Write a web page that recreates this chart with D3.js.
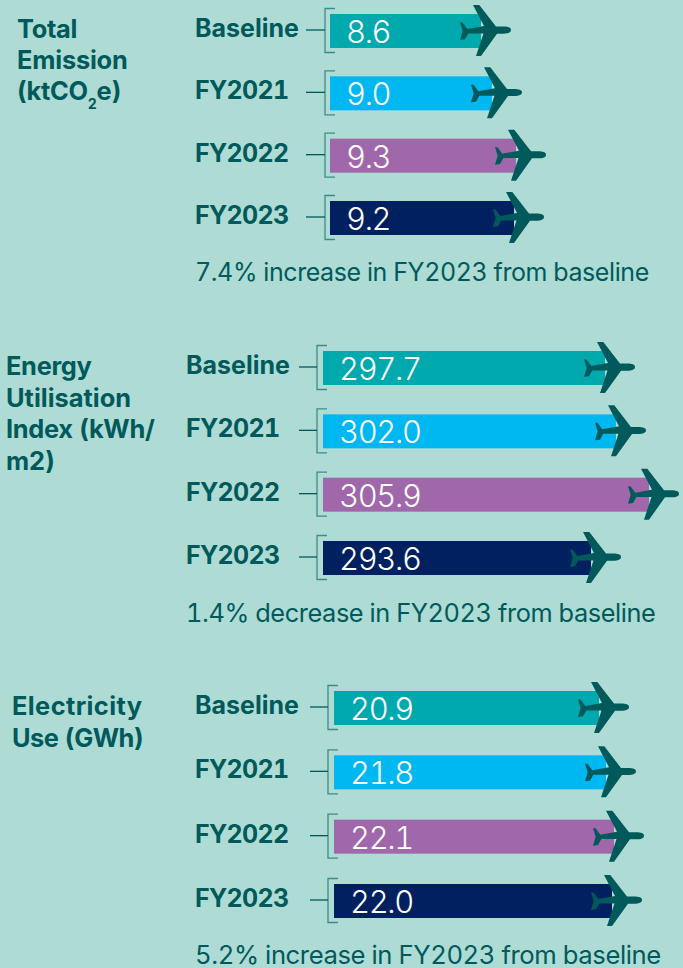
<!DOCTYPE html>
<html><head><meta charset="utf-8">
<script src="https://cdn.jsdelivr.net/npm/d3@7"></script>
<style>html,body{margin:0;padding:0;background:#aedcd5}svg{display:block}text{font-family:Inter,sans-serif;font-variant-numeric:tabular-nums}</style>
</head><body><svg id="c" width="683" height="968"></svg>
<script>
const categories = ["Baseline","FY2021","FY2022","FY2023"];
const seriesColors = ["#00a9ae","#00b8f1","#a067aa","#002060"];
const emission = [8.6,9.0,9.3,9.2];
const energy = [297.7,302.0,305.9,293.6];
const electricity = [20.9,21.8,22.1,22.0];
const emissionLabels = ["8.6","9.0","9.3","9.2"];
const energyLabels = ["297.7","302.0","305.9","293.6"];
const electricityLabels = ["20.9","21.8","22.1","22.0"];
const notes = ["7.4% increase in FY2023 from baseline","1.4% decrease in FY2023 from baseline","5.2% increase in FY2023 from baseline"];

const ink = "#005a5b";
const svg = d3.select("#c");
svg.append("rect").attr("width",683).attr("height",968).attr("fill","#aedcd5");

// Each panel: the plane-tip x scale is piecewise because the source graphic is not strictly proportional.
const panels = [
 {values:emission,labels:emissionLabels,note:notes[0],
  x:d3.scaleLinear().domain([8.6,9.0,9.2,9.3]).range([511,522,544,546]),
  yTop:31,yBot:218,x0:330,textX:346,labelX:195,tick0:306,brk:325,noteX:195,noteY:281,noteSize:25,
  title:[["Total"],["Emission"],["(ktCO","2","e)"]],titleSp:[-0.3,-0.2,-0.3],titleX:17,titleY:38,titleDy:31},
 {values:energy,labels:energyLabels,note:notes[1],
  x:d3.scaleLinear().domain([293.6,297.7,302,305.9]).range([621,635,646,679]),
  yTop:368,yBot:558,x0:323,textX:339,labelX:186,tick0:299,brk:317,noteX:186,noteY:622,noteSize:25.35,
  title:[["Energy"],["Utilisation"],["Index (kWh/"],["m2)"]],titleSp:[-0.3,0,-0.3,-0.3],titleX:6,titleY:375,titleDy:31.5},
 {values:electricity,labels:electricityLabels,note:notes[2],
  x:d3.scaleLinear().domain([20.9,21.8,22.0,22.1]).range([629,636,642,644]),
  yTop:708,yBot:901,x0:334,textX:350,labelX:195,tick0:310,brk:328,noteX:195,noteY:964,noteSize:25.65,
  title:[["Electricity"],["Use (GWh)"]],titleSp:[0.4,-0.5],titleX:12,titleY:715,titleDy:32}
];

const plane = "M0,0 C0,-2.5 -3,-3.4 -8,-3.4 L-15,-3.4 L-31.7,-25 L-38,-25 L-27,-4 L-43.7,-1 L-48.5,-7.5 L-51,-7.5 L-48.3,1 L-51,10 L-46,9.3 L-42.7,3.4 L-27.5,3.4 L-35,26 L-30,26 L-14,3.7 L-8,3.7 C-3,3.7 0,2.5 0,0 Z";

panels.forEach(p=>{
  const g = svg.append("g");
  const y = d3.scalePoint().domain(categories).range([p.yTop,p.yBot]);
  const barH = 34, planeBack = 30;
  categories.forEach((c,i)=>{
    const cy = y(c), tip = p.x(p.values[i]);
    g.append("rect").attr("x",p.x0).attr("y",cy-barH/2).attr("width",tip-planeBack-p.x0).attr("height",barH).attr("fill",seriesColors[i]);
    g.append("path").attr("d",`M${p.brk+10},${cy-22.5}H${p.brk}V${cy+21.5}H${p.brk+10}`).attr("fill","none").attr("stroke","#3f8a88").attr("stroke-width",1.3);
    g.append("line").attr("x1",p.tick0).attr("x2",p.brk).attr("y1",cy-1).attr("y2",cy-1).attr("stroke",ink).attr("stroke-width",1.3);
    g.append("path").attr("d",plane).attr("transform",`translate(${tip},${cy-1})`).attr("fill",ink);
    g.append("text").attr("x",p.labelX).attr("y",cy+6).attr("font-size",25).attr("font-weight",700).attr("letter-spacing",i===0?0:-0.7).attr("fill",ink).text(c);
    g.append("text").attr("x",p.textX).attr("y",cy+12).attr("font-size",31).attr("font-weight",300).attr("letter-spacing",-1.4).attr("fill","#fff").text(p.labels[i]);
  });
  g.append("text").attr("x",p.noteX).attr("y",p.noteY).attr("font-size",p.noteSize).attr("fill",ink).attr("letter-spacing",-0.42).text(p.note);
  p.title.forEach((parts,i)=>{
    const t = g.append("text").attr("x",p.titleX).attr("y",p.titleY+i*p.titleDy).attr("font-size",25.4).attr("font-weight",700).attr("letter-spacing",p.titleSp[i]).attr("fill",ink);
    parts.forEach((s,j)=>{
      const ts = t.append("tspan").text(s);
      if(parts.length>1 && j===1) ts.attr("font-size",14).attr("dy",9);
      if(parts.length>1 && j===2) ts.attr("dy",-9);
    });
  });
});
</script></body></html>
